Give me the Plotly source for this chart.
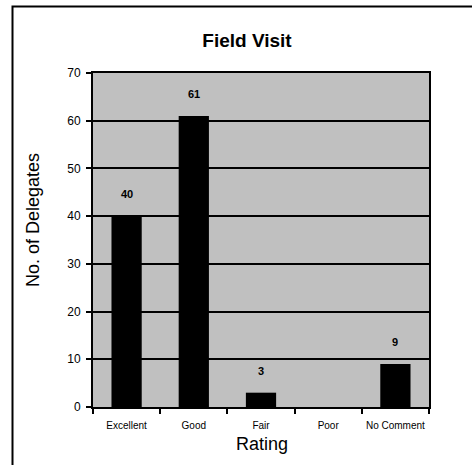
import plotly.graph_objects as go

ratings = ["Excellent", "Good", "Fair", "Poor", "No Comment"]
delegates = [40, 61, 3, 0, 9]
y_ticks = [0, 10, 20, 30, 40, 50, 60, 70]

W, H = 472, 465
L, R, T, B = 93, 43, 73, 58
pw, ph = W - L - R, H - T - B
FONT = "Arial, Liberation Sans"

def px_x(x):
    return (x - L) / pw

def px_y(y):
    return 1 - (y - T) / ph

fig = go.Figure()
fig.add_trace(go.Bar(
    x=ratings, y=delegates,
    marker=dict(color="black", line=dict(width=0)),
    hoverinfo="x+y",
))

# value labels above each non-zero bar
for r, v in zip(ratings, delegates):
    if v > 0:
        fig.add_annotation(
            x=r, y=v, xref="x", yref="y", text=f"<b>{v}</b>",
            showarrow=False, yanchor="bottom", yshift=14,
            font=dict(family=FONT, size=11, color="black"),
        )

fig.add_annotation(
    x=px_x(33), y=px_y(220), xref="paper", yref="paper", text="No. of Delegates",
    textangle=-90, showarrow=False, xanchor="center", yanchor="middle",
    font=dict(family=FONT, size=18, color="black"),
)
fig.add_annotation(
    x=px_x(262), y=px_y(444), xref="paper", yref="paper", text="Rating",
    showarrow=False, xanchor="center", yanchor="middle",
    font=dict(family=FONT, size=18, color="black"),
)

# outer chart frame
fig.add_shape(
    type="rect", xref="paper", yref="paper",
    x0=px_x(12.5), y0=px_y(480), x1=px_x(490), y1=px_y(6.5),
    line=dict(color="black", width=2), fillcolor="rgba(0,0,0,0)", layer="below",
)

fig.update_layout(
    width=W, height=H,
    margin=dict(l=L, r=R, t=T, b=B, autoexpand=False),
    paper_bgcolor="white",
    plot_bgcolor="#C0C0C0",
    bargap=0.55,
    showlegend=False,
    title=dict(
        text="<b>Field Visit</b>", x=247 / W, xanchor="center",
        y=1 - 40 / H, yanchor="middle", yref="container",
        font=dict(family=FONT, size=19, color="black"),
    ),
    xaxis=dict(
        type="category", categoryorder="array", categoryarray=ratings,
        showgrid=False, zeroline=False,
        showline=True, linecolor="black", linewidth=2, mirror=True,
        ticks="outside", tickson="boundaries", ticklen=5, tickwidth=2, tickcolor="black",
        ticklabelstandoff=8, tickangle=0,
        tickfont=dict(family=FONT, size=10, color="black"),
        fixedrange=True,
    ),
    yaxis=dict(
        range=[0, 70], tickvals=y_ticks,
        showgrid=True, gridcolor="black", gridwidth=1.5,
        zeroline=False,
        showline=True, linecolor="black", linewidth=2, mirror=True,
        ticks="outside", ticklen=5, tickwidth=2, tickcolor="black",
        ticklabelstandoff=3,
        tickfont=dict(family=FONT, size=12, color="black"),
        fixedrange=True,
    ),
)

fig.write_html("out.html")
